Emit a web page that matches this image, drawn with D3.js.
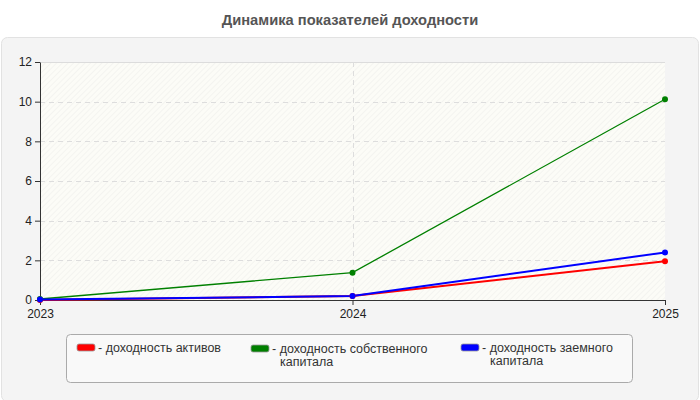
<!DOCTYPE html>
<meta charset="utf-8">
<style>
  body { margin: 0; background: #fff; }
  svg { font-family: "Liberation Sans", Arial, sans-serif; display: block; }
</style>
<script src="https://d3js.org/d3.v7.min.js"></script>
<div id="chart"></div>
<script>
// Data
var years = ["2023", "2024", "2025"];
var seriesNames = ["доходность активов", "доходность собственного капитала", "доходность заемного капитала"];
var seriesColors = ["#ff0000", "#008000", "#0000ff"];
var roa = [0.0, 0.2, 1.95];
var roe = [0.05, 1.38, 10.12];
var rod = [0.02, 0.2, 2.4];
var yTicks = [0, 2, 4, 6, 8, 10, 12];

var W = 700, H = 400;
var margin = {top: 62, right: 35, bottom: 100, left: 40},
    width = W - margin.left - margin.right,
    height = H - margin.top - margin.bottom;

var svg = d3.select("#chart").append("svg")
    .attr("width", W)
    .attr("height", H);

var defs = svg.append("defs");
var pat = defs.append("pattern")
    .attr("id", "hatch")
    .attr("width", 4).attr("height", 4)
    .attr("patternUnits", "userSpaceOnUse")
    .attr("patternTransform", "rotate(45)");
pat.append("rect").attr("width", 4).attr("height", 4).attr("fill", "#fcfcf7");
pat.append("line").attr("x1", 0).attr("y1", 0).attr("x2", 0).attr("y2", 4)
    .attr("stroke", "#ececea").attr("stroke-width", 1);

// title
svg.append("text")
    .attr("x", W / 2)
    .attr("y", 25)
    .attr("text-anchor", "middle")
    .style("font-size", "14.7px")
    .style("font-weight", "bold")
    .style("fill", "#555")
    .text("Динамика показателей доходности");

// outer panel
svg.append("rect")
    .attr("x", 1.5).attr("y", 37.5)
    .attr("width", W - 3).attr("height", H - 36)
    .attr("rx", 6)
    .attr("fill", "#f4f4f4")
    .attr("stroke", "#e2e2e2");

var g = svg.append("g")
    .attr("transform", "translate(" + margin.left + "," + margin.top + ")");

var x = d3.scalePoint().domain(years).range([0, width]);
var y = d3.scaleLinear().domain([0, 12]).range([height, 0]);

// plot background
g.append("rect")
    .attr("width", width).attr("height", height)
    .attr("fill", "url(#hatch)");
g.append("line")
    .attr("x1", 0).attr("x2", width).attr("y1", 0.5).attr("y2", 0.5)
    .attr("stroke", "#dcdcdc");

// grid
g.selectAll(".hgrid").data(yTicks.filter(function(d) { return d > 0 && d < 12; }))
  .enter().append("line")
    .attr("x1", 0).attr("x2", width)
    .attr("y1", function(d) { return Math.round(y(d)) + 0.5; })
    .attr("y2", function(d) { return Math.round(y(d)) + 0.5; })
    .attr("stroke", "#dddddd")
    .attr("stroke-dasharray", "5,4");
g.selectAll(".vgrid").data(years.slice(1, -1))
  .enter().append("line")
    .attr("x1", function(d) { return Math.round(x(d)) + 0.5; })
    .attr("x2", function(d) { return Math.round(x(d)) + 0.5; })
    .attr("y1", 0).attr("y2", height)
    .attr("stroke", "#dddddd")
    .attr("stroke-dasharray", "5,4");

// axes
var yAxis = g.append("g")
    .call(d3.axisLeft(y).tickValues(yTicks).tickSize(5).tickSizeOuter(0));
var xAxis = g.append("g")
    .attr("transform", "translate(0," + height + ")")
    .call(d3.axisBottom(x).tickSize(5).tickSizeOuter(0));
[xAxis, yAxis].forEach(function(a) {
  a.selectAll("path, line").attr("stroke", "#333");
  a.selectAll("text").style("font-size", "12px").style("fill", "#222")
    .style("font-family", "'Liberation Sans', Arial, sans-serif");
});
xAxis.selectAll("text").attr("dy", "1em").attr("y", 6);

// lines
var series = [roa, roe, rod];
var widths = [2, 1.3, 2];
var line = d3.line()
    .x(function(d, i) { return x(years[i]); })
    .y(function(d) { return y(d); });

series.forEach(function(vals, s) {
  g.append("path")
    .datum(vals)
    .attr("fill", "none")
    .attr("stroke", seriesColors[s])
    .attr("stroke-width", widths[s])
    .attr("d", line);
});
series.forEach(function(vals, s) {
  g.selectAll(".pt" + s).data(vals).enter().append("circle")
    .attr("cx", function(d, i) { return x(years[i]); })
    .attr("cy", function(d) { return y(d); })
    .attr("r", 3)
    .attr("fill", seriesColors[s]);
});

// legend
svg.append("rect")
    .attr("x", 66.5).attr("y", 334.5)
    .attr("width", 566).attr("height", 48)
    .attr("rx", 4)
    .attr("fill", "#f9f9f9")
    .attr("stroke", "#aaaaaa");

var legendX = [77, 251, 461];
var legendLines = [["доходность активов"], ["доходность собственного", "капитала"], ["доходность заемного", "капитала"]];
var legendY = [344, 345, 344];
seriesNames.forEach(function(name, i) {
  var lg = svg.append("g").attr("transform", "translate(" + legendX[i] + "," + legendY[i] + ")");
  lg.append("rect")
    .attr("width", 18).attr("height", 7).attr("rx", 2)
    .attr("fill", seriesColors[i])
    .attr("stroke", "#999").attr("stroke-width", 0.8);
  legendLines[i].forEach(function(l, k) {
    lg.append("text")
      .attr("x", k === 0 ? 21 : 29)
      .attr("y", 7.5 + k * 13)
      .style("font-size", "12.5px")
      .style("fill", "#333")
      .text(k === 0 ? "- " + l : l);
  });
});
</script>
